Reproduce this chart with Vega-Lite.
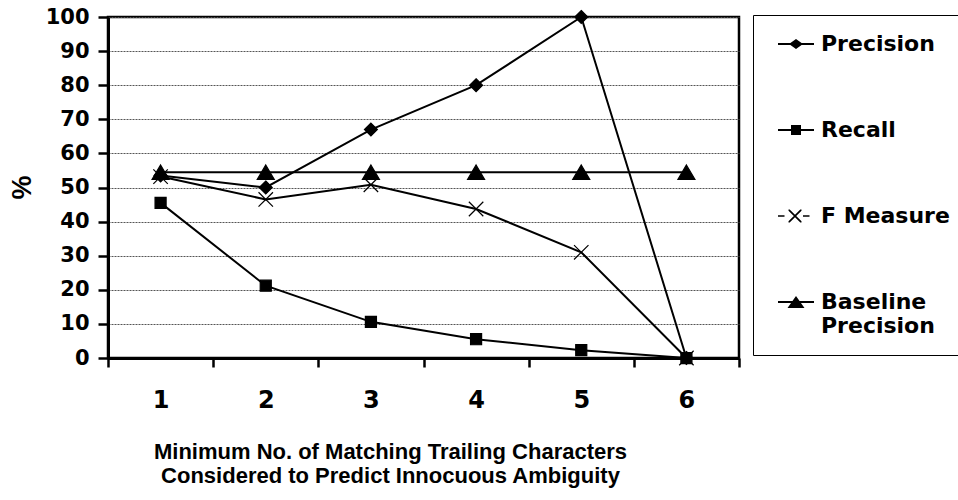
{
  "$schema": "https://vega.github.io/schema/vega-lite/v6.json",
  "autosize": {"type": "none"},
  "padding": {"left": 108, "top": 17, "right": 219, "bottom": 142},
  "width": 631,
  "height": 341,
  "background": "white",
  "config": {
    "view": {"stroke": "black", "strokeWidth": 2.5},
    "font": "DejaVu Sans"
  },
  "data": {
    "values": [
      {"series": "Precision", "x": "1", "value": 53.5},
      {"series": "Precision", "x": "2", "value": 50},
      {"series": "Precision", "x": "3", "value": 67},
      {"series": "Precision", "x": "4", "value": 80},
      {"series": "Precision", "x": "5", "value": 100},
      {"series": "Precision", "x": "6", "value": 0},
      {"series": "Recall", "x": "1", "value": 45.5},
      {"series": "Recall", "x": "2", "value": 21.2},
      {"series": "Recall", "x": "3", "value": 10.6},
      {"series": "Recall", "x": "4", "value": 5.5},
      {"series": "Recall", "x": "5", "value": 2.3},
      {"series": "Recall", "x": "6", "value": 0},
      {"series": "F Measure", "x": "1", "value": 53.2},
      {"series": "F Measure", "x": "2", "value": 46.5},
      {"series": "F Measure", "x": "3", "value": 50.8},
      {"series": "F Measure", "x": "4", "value": 43.7},
      {"series": "F Measure", "x": "5", "value": 31},
      {"series": "F Measure", "x": "6", "value": 0},
      {"series": "Baseline Precision", "x": "1", "value": 54.5},
      {"series": "Baseline Precision", "x": "2", "value": 54.5},
      {"series": "Baseline Precision", "x": "3", "value": 54.5},
      {"series": "Baseline Precision", "x": "4", "value": 54.5},
      {"series": "Baseline Precision", "x": "5", "value": 54.5},
      {"series": "Baseline Precision", "x": "6", "value": 54.5}
    ]
  },
  "encoding": {
    "x": {
      "field": "x",
      "type": "ordinal",
      "scale": {"type": "band", "paddingInner": 0, "paddingOuter": 0},
      "axis": {
        "title": ["Minimum No. of Matching Trailing Characters", "Considered to Predict Innocuous Ambiguity"],
        "titleFont": "Liberation Sans",
        "titleFontSize": 22,
        "titleFontWeight": "bold",
        "titleColor": "black",
        "titleAlign": "center",
        "titleAnchor": null,
        "titleX": 282,
        "titleY": 100,
        "titleBaseline": "alphabetic",
        "titleLineHeight": 24,
        "labelAngle": 0,
        "labelFont": "DejaVu Sans",
        "labelFontSize": 24,
        "labelFontWeight": "bold",
        "labelColor": "black",
        "labelPadding": 21,
        "tickBand": "extent",
        "tickSize": 9,
        "tickWidth": 2.5,
        "tickColor": "black",
        "domainColor": "black",
        "domainWidth": 3,
        "grid": false
      }
    },
    "y": {
      "field": "value",
      "type": "quantitative",
      "scale": {"domain": [0, 100], "nice": false},
      "axis": {
        "title": "%",
        "titleFont": "Liberation Sans",
        "titleFontSize": 27,
        "titleFontWeight": "bold",
        "titleColor": "black",
        "titleAngle": -90,
        "titleX": -86,
        "titleY": 170,
        "titleAlign": "center",
        "titleBaseline": "middle",
        "values": [0, 10, 20, 30, 40, 50, 60, 70, 80, 90, 100],
        "labelFont": "DejaVu Sans",
        "labelFontSize": 21,
        "labelFontWeight": "bold",
        "labelColor": "black",
        "labelPadding": 9,
        "tickSize": 10,
        "tickWidth": 2.5,
        "tickColor": "black",
        "domainColor": "black",
        "domainWidth": 3,
        "grid": true,
        "gridColor": "#555",
        "gridDash": [2, 1],
        "gridWidth": 1
      }
    }
  },
  "layer": [
    {
      "mark": {"type": "line", "color": "black", "strokeWidth": 2},
      "encoding": {"detail": {"field": "series"}}
    },
    {
      "mark": {"type": "point", "filled": true, "color": "black", "stroke": "black", "strokeWidth": 1.2, "size": 289, "opacity": 1},
      "encoding": {
        "shape": {
          "field": "series",
          "scale": {
            "domain": ["Precision", "Recall", "F Measure", "Baseline Precision"],
            "range": [
              "M0,-0.76L0.76,0L0,0.76L-0.76,0Z",
              "M-0.65,-0.65H0.65V0.65H-0.65Z",
              "M-0.85,-0.85L0.85,0.85M-0.85,0.85L0.85,-0.85",
              "M0,-0.85L1,0.85H-1Z"
            ]
          },
          "legend": null
        }
      }
    },
    {
      "mark": {"type": "point", "filled": true, "color": "black", "opacity": 0},
      "encoding": {
        "shape": {
          "field": "series",
          "scale": {
            "domain": ["Precision", "Recall", "F Measure", "Baseline Precision"],
            "range": [
              "M-0.4,-0.1H3.2V0.1H-0.4Z M1.4,-0.5L2.1,0L1.4,0.5L0.7,0Z",
              "M-0.4,-0.1H3.2V0.1H-0.4Z M0.9,-0.5H1.9V0.5H0.9Z",
              "M-0.4,-0.08H0.25V0.08H-0.4Z M2.1,-0.08H2.75V0.08H2.1Z M0.65,-0.65L0.77,-0.65L1.95,0.53L1.95,0.65L1.83,0.65L0.65,-0.53Z M0.65,0.65L0.65,0.53L1.83,-0.65L1.95,-0.65L1.95,-0.53L0.77,0.65Z",
              "M-0.4,-0.1H3.2V0.1H-0.4Z M1.4,-0.6L2.25,0.6H0.55Z"
            ]
          },
          "legend": {
            "title": null,
            "orient": "none",
            "legendX": 645,
            "legendY": -2,
            "padding": 18,
            "strokeColor": "black",
            "fillColor": "white",
            "symbolSize": 400,
            "symbolOpacity": 1,
            "symbolFillColor": "black",
            "symbolStrokeColor": "black",
            "symbolStrokeWidth": 0,
            "labelFont": "DejaVu Sans",
            "labelFontSize": 22,
            "labelFontWeight": "bold",
            "labelColor": "black",
            "labelOffset": 28,
            "labelLimit": 300,
            "labelBaseline": "middle",
            "rowPadding": 64,
            "labelExpr": "datum.label == 'Baseline Precision' ? ['Baseline', 'Precision'] : datum.label",
            "encode": {
              "symbols": {"update": {"opacity": {"value": 1}, "fill": {"value": "black"}}},
              "legend": {"update": {"strokeWidth": {"value": 1.5}}}
            }
          }
        }
      }
    }
  ],
  "resolve": {"scale": {"shape": "independent"}, "legend": {"shape": "independent"}}
}
